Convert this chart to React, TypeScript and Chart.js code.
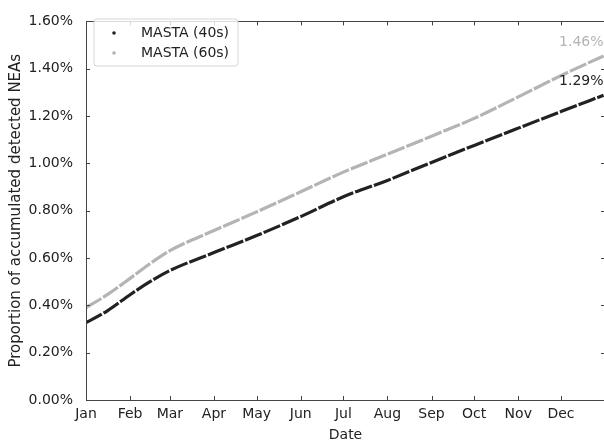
import React, { useEffect, useRef } from "react";
import { Chart, registerables } from "chart.js";

Chart.register(...registerables);

const monthLabels = ["Jan", "Feb", "Mar", "Apr", "May", "Jun", "Jul", "Aug", "Sep", "Oct", "Nov", "Dec"];
const monthStartDays = [0, 31, 59, 90, 120, 151, 181, 212, 243, 273, 304, 334];
const sampleDays = [0, 15, 31, 45, 59, 90, 120, 151, 181, 212, 243, 273, 304, 334, 364];
const masta40 = [0.327, 0.377, 0.445, 0.5, 0.547, 0.623, 0.695, 0.775, 0.859, 0.928, 1.004, 1.076, 1.149, 1.219, 1.288];
const masta60 = [0.39, 0.445, 0.514, 0.576, 0.631, 0.716, 0.795, 0.88, 0.963, 1.039, 1.115, 1.19, 1.281, 1.371, 1.454];
const yTicks = [0, 0.2, 0.4, 0.6, 0.8, 1.0, 1.2, 1.4, 1.6];
const seriesNames = ["MASTA (40s)", "MASTA (60s)"];
const endLabels = ["1.29%", "1.46%"];

const FONT = "'DejaVu Sans', sans-serif";
const BLACK = "#222222";
const GRAY = "#b4b4b4";
const AXIS = "#444444";

const framePlugin = {
  id: "frame",
  afterDraw(chart: any) {
    const { ctx, chartArea, scales } = chart;
    const { left, right, top, bottom } = chartArea;
    const x = scales.x;
    const y = scales.y;
    ctx.save();
    ctx.strokeStyle = AXIS;
    ctx.lineWidth = 1;
    ctx.strokeRect(Math.round(left) + 0.5, Math.round(top) + 0.5, Math.round(right - left), Math.round(bottom - top));
    ctx.beginPath();
    for (const d of monthStartDays) {
      const px = Math.round(x.getPixelForValue(d)) + 0.5;
      ctx.moveTo(px, bottom);
      ctx.lineTo(px, bottom - 4);
      ctx.moveTo(px, top);
      ctx.lineTo(px, top + 4);
    }
    for (const v of yTicks) {
      const py = Math.round(y.getPixelForValue(v)) + 0.5;
      ctx.moveTo(left, py);
      ctx.lineTo(left + 4, py);
      ctx.moveTo(right, py);
      ctx.lineTo(right - 4, py);
    }
    ctx.stroke();

    // end labels
    ctx.font = `14px ${FONT}`;
    ctx.textAlign = "right";
    ctx.textBaseline = "bottom";
    chart.data.datasets.forEach((ds: any, i: number) => {
      const meta = chart.getDatasetMeta(i);
      const pt = meta.data[meta.data.length - 1];
      ctx.fillStyle = ds.borderColor;
      ctx.fillText(endLabels[i], Math.min(pt.x, 604), pt.y - 7);
    });

    // legend
    const lx = 94, ly = 19, lw = 144, lh = 47;
    ctx.beginPath();
    const r = 3;
    ctx.moveTo(lx + r, ly);
    ctx.arcTo(lx + lw, ly, lx + lw, ly + lh, r);
    ctx.arcTo(lx + lw, ly + lh, lx, ly + lh, r);
    ctx.arcTo(lx, ly + lh, lx, ly, r);
    ctx.arcTo(lx, ly, lx + lw, ly, r);
    ctx.closePath();
    ctx.fillStyle = "rgba(255,255,255,0.8)";
    ctx.fill();
    ctx.strokeStyle = "#d6d6d6";
    ctx.stroke();
    ctx.textAlign = "left";
    ctx.textBaseline = "middle";
    chart.data.datasets.forEach((ds: any, i: number) => {
      const cy = 33 + i * 20;
      ctx.fillStyle = ds.borderColor;
      ctx.beginPath();
      ctx.arc(114, cy, 1.8, 0, Math.PI * 2);
      ctx.fill();
      ctx.fillStyle = BLACK;
      ctx.fillText(seriesNames[i], 141, cy);
    });
    ctx.restore();
  },
};

export default function App() {
  const ref = useRef<HTMLCanvasElement | null>(null);
  useEffect(() => {
    document.body.style.margin = "0";
    const canvas = ref.current;
    if (!canvas) return;
    const chart = new Chart(canvas, {
      type: "line",
      data: {
        datasets: [
          {
            label: seriesNames[0],
            data: sampleDays.map((d, i) => ({ x: d, y: masta40[i] })),
            borderColor: BLACK,
            backgroundColor: BLACK,
            borderWidth: 3.2,
            borderDash: [18, 2],
            pointRadius: 0,
            tension: 0.4,
            cubicInterpolationMode: "monotone",
          },
          {
            label: seriesNames[1],
            data: sampleDays.map((d, i) => ({ x: d, y: masta60[i] })),
            borderColor: GRAY,
            backgroundColor: GRAY,
            borderWidth: 3.2,
            borderDash: [18, 2],
            pointRadius: 0,
            tension: 0.4,
            cubicInterpolationMode: "monotone",
          },
        ],
      },
      options: {
        animation: false,
        responsive: false,
        maintainAspectRatio: false,
        layout: { padding: { top: 13, right: 3, left: 0, bottom: 0 } },
        plugins: { legend: { display: false }, tooltip: { enabled: false } },
        scales: {
          x: {
            type: "linear",
            min: 0,
            max: 365,
            grid: { display: false, drawTicks: false },
            border: { display: false },
            afterBuildTicks: (s: any) => {
              s.ticks = monthStartDays.map((v) => ({ value: v }));
            },
            afterFit: (s: any) => {
              s.height = 45;
            },
            ticks: {
              autoSkip: false,
              maxRotation: 0,
              padding: 6,
              color: BLACK,
              font: { family: FONT, size: 14 },
              callback: (v: any) => monthLabels[monthStartDays.indexOf(Number(v))] ?? "",
            },
            title: {
              display: true,
              text: "Date",
              color: BLACK,
              font: { family: FONT, size: 14 },
              padding: { top: 0, bottom: 1 },
            },
          },
          y: {
            min: 0,
            max: 1.6,
            grid: { display: false, drawTicks: false },
            border: { display: false },
            afterBuildTicks: (s: any) => {
              s.ticks = yTicks.map((v) => ({ value: v }));
            },
            afterFit: (s: any) => {
              s.width = 86;
            },
            ticks: {
              padding: 13,
              color: BLACK,
              font: { family: FONT, size: 14 },
              callback: (v: any) => Number(v).toFixed(2) + "%",
            },
            title: {
              display: true,
              text: "Proportion of accumulated detected NEAs",
              color: BLACK,
              font: { family: FONT, size: 15 },
              padding: { top: 7, bottom: 0 },
            },
          },
        },
      },
      plugins: [framePlugin],
    } as any);
    return () => chart.destroy();
  }, []);
  return (
    <div style={{ position: "absolute", left: 0, top: 0, width: 604, height: 445, overflow: "hidden", background: "#fff" }}>
      <canvas ref={ref} width={608} height={445} style={{ display: "block", width: 608, height: 445 }} />
    </div>
  );
}
